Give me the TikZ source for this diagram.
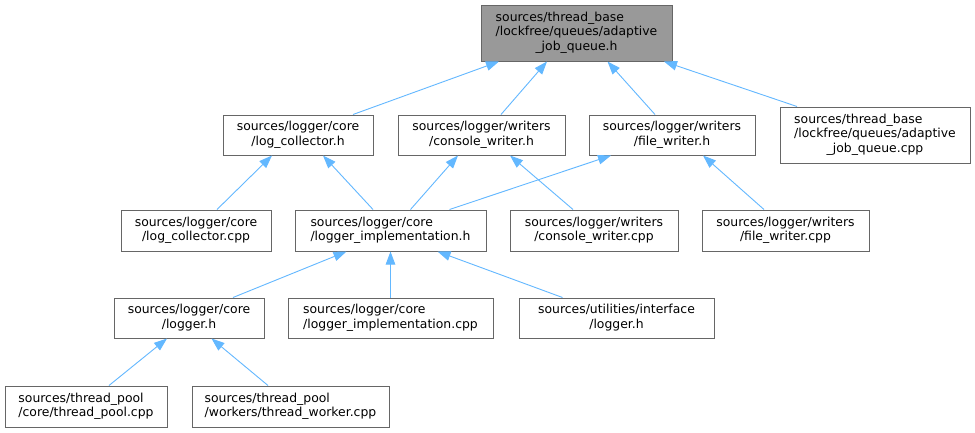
\documentclass[tikz,border=0pt]{standalone}
\usepackage{fontspec}
\setmainfont{DejaVu Sans}
\usetikzlibrary{arrows.meta}
\definecolor{edgeblue}{HTML}{63B8FF}
\definecolor{boxborder}{HTML}{666666}
\definecolor{rootfill}{HTML}{999999}
\newcommand{\lbl}[1]{{\fontsize{12.4}{14.5}\selectfont\begin{tabular}{@{}l@{}}#1\end{tabular}}}
\newcommand{\lastln}[1]{\multicolumn{1}{@{}c@{}}{#1}}
\begin{document}
\begin{tikzpicture}[x=1pt,y=-1pt,
  filebox/.style={draw=boxborder, line width=1pt, fill=white, inner sep=0pt, anchor=center},
  edge/.style={draw=edgeblue, line width=0.9pt, -{Triangle[length=13pt,width=9.5pt]}, shorten >=0pt}]
\useasboundingbox (0,0) rectangle (975,432);
\fill[white] (0,0) rectangle (975,432);
% row 1
\node[filebox, fill=rootfill, minimum width=191pt, minimum height=56pt] (root) at (576.5,33)
  {\lbl{sources/thread\_base\\/lockfree/queues/adaptive\\\lastln{\_job\_queue.h}}};
% row 2
\node[filebox, minimum width=150pt, minimum height=40pt] (lch) at (298,135)
  {\lbl{sources/logger/core\\\lastln{/log\_collector.h}}};
\node[filebox, minimum width=167pt, minimum height=40pt] (cwh) at (481.5,135)
  {\lbl{sources/logger/writers\\\lastln{/console\_writer.h}}};
\node[filebox, minimum width=166pt, minimum height=40pt] (fwh) at (672,135)
  {\lbl{sources/logger/writers\\\lastln{/file\_writer.h}}};
\node[filebox, minimum width=190pt, minimum height=56pt] (ajq) at (875,135)
  {\lbl{sources/thread\_base\\/lockfree/queues/adaptive\\\lastln{\_job\_queue.cpp}}};
% row 3
\node[filebox, minimum width=150pt, minimum height=41pt] (lcc) at (196,230.5)
  {\lbl{sources/logger/core\\\lastln{/log\_collector.cpp}}};
\node[filebox, minimum width=191pt, minimum height=41pt] (lih) at (390.5,230.5)
  {\lbl{sources/logger/core\\\lastln{/logger\_implementation.h}}};
\node[filebox, minimum width=168pt, minimum height=41pt] (cwc) at (594,230.5)
  {\lbl{sources/logger/writers\\\lastln{/console\_writer.cpp}}};
\node[filebox, minimum width=167pt, minimum height=41pt] (fwc) at (785.5,230.5)
  {\lbl{sources/logger/writers\\\lastln{/file\_writer.cpp}}};
% row 4
\node[filebox, minimum width=150pt, minimum height=40pt] (lgh) at (189,318)
  {\lbl{sources/logger/core\\\lastln{/logger.h}}};
\node[filebox, minimum width=205pt, minimum height=40pt] (lic) at (390.5,318)
  {\lbl{sources/logger/core\\\lastln{/logger\_implementation.cpp}}};
\node[filebox, minimum width=195pt, minimum height=40pt] (uil) at (616.5,318)
  {\lbl{sources/utilities/interface\\\lastln{/logger.h}}};
% row 5
\node[filebox, minimum width=162pt, minimum height=41pt] (tpc) at (86,406.5)
  {\lbl{sources/thread\_pool\\\lastln{/core/thread\_pool.cpp}}};
\node[filebox, minimum width=197pt, minimum height=41pt] (twc) at (290.5,406.5)
  {\lbl{sources/thread\_pool\\\lastln{/workers/thread\_worker.cpp}}};
% edges (child -> parent, arrowhead at parent)
\draw[edge] ([xshift=55pt]lch.north) -- ([xshift=-77.5pt]root.south);
\draw[edge] ([xshift=19.5pt]cwh.north) -- ([xshift=-29.5pt]root.south);
\draw[edge] ([xshift=-17pt]fwh.north) -- ([xshift=31pt]root.south);
\draw[edge] ([xshift=-78pt]ajq.north) -- ([xshift=87.5pt]root.south);
\draw[edge] ([xshift=21pt]lcc.north) -- ([xshift=-26pt]lch.south);
\draw[edge] ([xshift=-17.5pt]lih.north) -- ([xshift=25pt]lch.south);
\draw[edge] ([xshift=20pt]lih.north) -- ([xshift=-23.5pt]cwh.south);
\draw[edge] ([xshift=-21pt]cwc.north) -- ([xshift=28.5pt]cwh.south);
\draw[edge] ([xshift=59pt]lih.north) -- ([xshift=-61pt]fwh.south);
\draw[edge] ([xshift=-21.5pt]fwc.north) -- ([xshift=31pt]fwh.south);
\draw[edge] ([xshift=44pt]lgh.north) -- ([xshift=-44pt]lih.south);
\draw[edge] (lic.north) -- (lih.south);
\draw[edge] ([xshift=-54pt]uil.north) -- ([xshift=47pt]lih.south);
\draw[edge] ([xshift=23pt]tpc.north) -- ([xshift=-22pt]lgh.south);
\draw[edge] ([xshift=-22.5pt]twc.north) -- ([xshift=22.5pt]lgh.south);
\end{tikzpicture}
\end{document}
